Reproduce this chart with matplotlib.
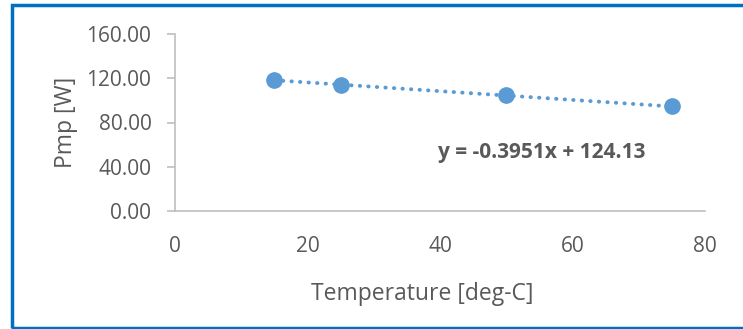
import matplotlib.pyplot as plt
from matplotlib.patches import Rectangle

temps = [15, 25, 50, 75]
pmp = [118.2, 114.3, 104.5, 94.5]
slope = -0.3951
intercept = 124.13

x_ticks = [0, 20, 40, 60, 80]
y_ticks = [0, 40, 80, 120, 160]

blue = "#5B9BD5"
grey = "#595959"

plt.rcParams['font.family'] = ['Open Sans', 'DejaVu Sans']

fig = plt.figure(figsize=(7.43, 3.29), dpi=100)
ax = fig.add_axes([175 / 743, 1 - 211 / 329, 530 / 743, 177 / 329])

fit_x = [temps[0], temps[-1]]
fit_y = [slope * t + intercept for t in fit_x]
ax.plot(fit_x, fit_y, color=blue, lw=2.8, linestyle=(0, (0.1, 2.1)),
        dash_capstyle='round', zorder=2)
ax.plot(temps, pmp, 'o', color=blue, markersize=11, zorder=3)

ax.set_xlim(0, 80)
ax.set_ylim(0, 160)
ax.set_xticks(x_ticks)
ax.set_yticks(y_ticks)
ax.set_yticklabels([f"{v:.2f}" for v in y_ticks])

for s in ['top', 'right']:
    ax.spines[s].set_visible(False)
for s in ['left', 'bottom']:
    ax.spines[s].set_color("#BFBFBF")
    ax.spines[s].set_linewidth(1.2)

ax.tick_params(axis='y', colors="#BFBFBF", labelcolor=grey, labelsize=15,
               length=6, width=1.2, pad=11)
ax.tick_params(axis='x', length=0, labelcolor=grey, labelsize=15, pad=18)

ax.set_xlabel("Temperature [deg-C]", color=grey, fontsize=16.5)
ax.xaxis.set_label_coords(0.467, -0.40)
ax.set_ylabel("Pmp [W]", color=grey, fontsize=16.5, labelpad=6)

ax.text(0.497, 0.33, f"y = {slope}x + {intercept}", transform=ax.transAxes,
        color=grey, fontsize=15, fontweight='bold', ha='left', va='center')

# blue frame round the chart
fig.patches.append(Rectangle((12 / 743, 1 / 329), 1.0, 323.5 / 329,
                             transform=fig.transFigure, fill=False,
                             edgecolor="#0070C0", linewidth=2.5))

fig.savefig("out.png", dpi=100)
